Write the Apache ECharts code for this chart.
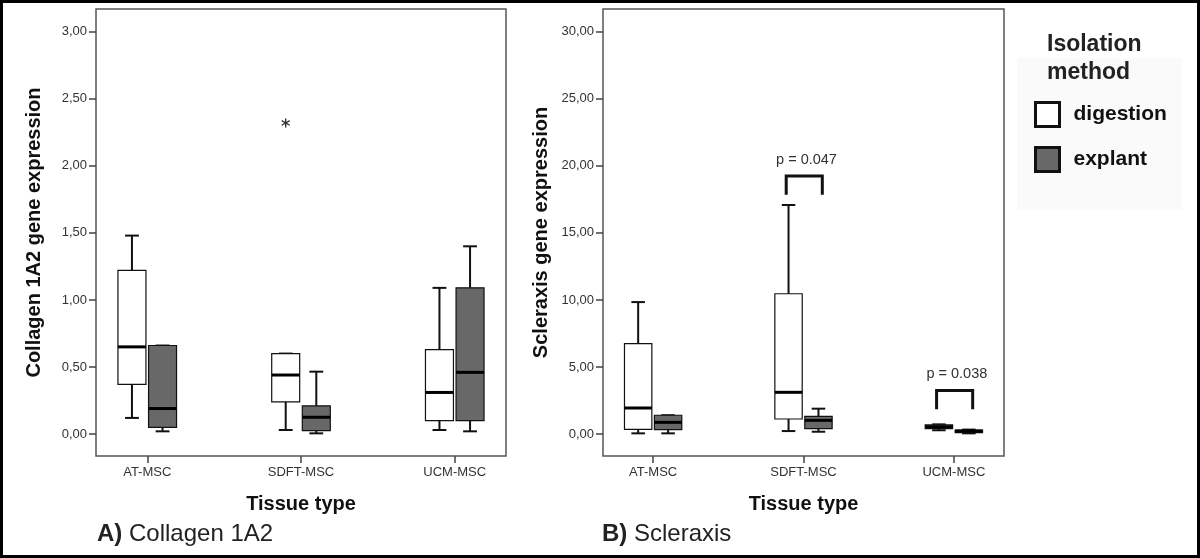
<!DOCTYPE html>
<html><head><meta charset="utf-8">
<script src="https://cdn.jsdelivr.net/npm/echarts@6/dist/echarts.min.js"></script>
<style>html,body{margin:0;padding:0;background:#fff}#c{width:1200px;height:558px}</style>
</head><body><div id="c"></div>
<script>
const categories = ['AT-MSC', 'SDFT-MSC', 'UCM-MSC'];
// each entry: [min, Q1, median, Q3, max]
const collagenDigestion = [[0.12, 0.37, 0.65, 1.22, 1.48], [0.03, 0.24, 0.44, 0.60, 0.60], [0.03, 0.10, 0.31, 0.63, 1.09]];
const collagenExplant = [[0.02, 0.05, 0.19, 0.66, 0.66], [0.005, 0.025, 0.125, 0.21, 0.465], [0.02, 0.10, 0.46, 1.09, 1.40]];
const collagenOutliers = [[1, 2.32]]; // [category index, value] (digestion)
const scleraxisDigestion = [[0.05, 0.35, 1.94, 6.74, 9.84], [0.22, 1.12, 3.11, 10.46, 17.08], [0.28, 0.40, 0.55, 0.68, 0.72]];
const scleraxisExplant = [[0.05, 0.32, 0.87, 1.40, 1.40], [0.17, 0.40, 1.02, 1.32, 1.89], [0.05, 0.10, 0.22, 0.30, 0.33]];
const scleraxisPValues = [[1, 19.25, 17.85, 'p = 0.047'], [2, 3.25, 1.85, 'p = 0.038']]; // [category, bracket top, bracket foot, label]
const collagenTicks = [0, 0.5, 1, 1.5, 2, 2.5, 3];
const scleraxisTicks = [0, 5, 10, 15, 20, 25, 30];
const seriesNames = ['digestion', 'explant'];

const FONT = "'Liberation Sans', Arial, Helvetica, sans-serif";
const DIG_FILL = '#ffffff', EXP_FILL = '#686868';
const catIdx = categories.map((c, i) => i);
const fmt = v => v.toFixed(2).replace('.', ',');

function makeBox(offset, fill) {
  return function (params, api) {
    const i = api.value(0);
    const unit = api.size([1, 0])[0];
    const cx = api.coord([i, 0])[0] + offset * unit;
    const half = 0.091 * unit, capHalf = 0.045 * unit;
    const y = k => api.coord([i, api.value(k)])[1];
    const yMin = y(1), yQ1 = y(2), yMed = y(3), yQ3 = y(4), yMax = y(5);
    const ls = { stroke: '#111', lineWidth: 2 };
    return { type: 'group', children: [
      { type: 'line', shape: { x1: cx, y1: yMax, x2: cx, y2: yQ3 }, style: ls },
      { type: 'line', shape: { x1: cx, y1: yQ1, x2: cx, y2: yMin }, style: ls },
      { type: 'line', shape: { x1: cx - capHalf, y1: yMax, x2: cx + capHalf, y2: yMax }, style: ls },
      { type: 'line', shape: { x1: cx - capHalf, y1: yMin, x2: cx + capHalf, y2: yMin }, style: ls },
      { type: 'rect', shape: { x: cx - half, y: yQ3, width: 2 * half, height: Math.max(yQ1 - yQ3, 1) }, style: { fill: fill, stroke: '#111', lineWidth: 1.2 } },
      { type: 'line', shape: { x1: cx - half, y1: yMed, x2: cx + half, y2: yMed }, style: { stroke: '#000', lineWidth: 3 } }
    ] };
  };
}
function outlierRender(params, api) {
  const i = api.value(0);
  const unit = api.size([1, 0])[0];
  const p = api.coord([i, api.value(1)]);
  const cx = p[0] - 0.0995 * unit, cy = p[1];
  const st = { stroke: '#333', lineWidth: 1.4 };
  return { type: 'group', children: [
    { type: 'line', shape: { x1: cx, y1: cy - 4.5, x2: cx, y2: cy + 4.5 }, style: st },
    { type: 'line', shape: { x1: cx - 4, y1: cy - 2.3, x2: cx + 4, y2: cy + 2.3 }, style: st },
    { type: 'line', shape: { x1: cx - 4, y1: cy + 2.3, x2: cx + 4, y2: cy - 2.3 }, style: st }
  ] };
}
function bracketRender(params, api) {
  const i = api.value(0);
  const unit = api.size([1, 0])[0];
  const cx = api.coord([i, 0])[0];
  const yTop = api.coord([i, api.value(1)])[1];
  const yBot = api.coord([i, api.value(2)])[1];
  const xl = cx - 0.115 * unit, xr = cx + 0.125 * unit;
  return { type: 'group', children: [
    { type: 'polyline', shape: { points: [[xl, yBot], [xl, yTop], [xr, yTop], [xr, yBot]] }, style: { stroke: '#111', lineWidth: 3, fill: null } },
    { type: 'text', x: cx + 3, y: yTop - 16, style: { text: scleraxisPValues[params.dataIndex][3], fill: '#333', font: '14.5px ' + FONT, align: 'center', verticalAlign: 'middle' } }
  ] };
}

function xAxisFor(g) {
  return {
    gridIndex: g, type: 'value', min: -1 / 3, max: 7 / 3, position: 'bottom',
    axisLine: { show: false, onZero: false }, splitLine: { show: false },
    axisTick: { show: true, customValues: catIdx, length: 7, lineStyle: { color: '#444', width: 1.5 } },
    axisLabel: { customValues: catIdx, formatter: v => categories[Math.round(v)], margin: 10, color: '#333', fontSize: 13, fontFamily: FONT },
    name: 'Tissue type', nameLocation: 'middle', nameGap: 38,
    nameTextStyle: { fontSize: 20, fontWeight: 'bold', color: '#111', fontFamily: FONT }
  };
}
function yAxisFor(g, min, max, ticks, name) {
  return {
    gridIndex: g, type: 'value', min: min, max: max, position: 'left',
    axisLine: { show: false, onZero: false }, splitLine: { show: false },
    axisTick: { show: true, customValues: ticks, length: 7, lineStyle: { color: '#444', width: 1.5 } },
    axisLabel: { customValues: ticks, formatter: fmt, margin: 9, color: '#333', fontSize: 13, fontFamily: FONT },
    name: name, nameLocation: 'middle', nameGap: 52,
    nameTextStyle: { fontSize: 20, fontWeight: 'bold', color: '#111', fontFamily: FONT }
  };
}
const toData = arr => arr.map((d, i) => [i].concat(d));
const boxSeries = (name, g, data, offset, fill) => ({
  type: 'custom', name: name, xAxisIndex: g, yAxisIndex: g,
  renderItem: makeBox(offset, fill), data: toData(data),
  encode: { x: 0, y: [1, 2, 3, 4, 5] },
  itemStyle: { color: fill, borderColor: '#111' }, z: 3
});

const chart = echarts.init(document.getElementById('c'), null, { renderer: 'canvas' });
chart.setOption({
  animation: false,
  backgroundColor: '#fff',
  textStyle: { fontFamily: FONT },
  grid: [
    { left: 96, top: 9, width: 410, height: 447, show: true, borderColor: '#555', borderWidth: 1.5, backgroundColor: 'transparent' },
    { left: 603, top: 9, width: 401, height: 447, show: true, borderColor: '#555', borderWidth: 1.5, backgroundColor: 'transparent' }
  ],
  xAxis: [xAxisFor(0), xAxisFor(1)],
  yAxis: [
    yAxisFor(0, -0.164, 3.17, collagenTicks, 'Collagen 1A2 gene expression'),
    yAxisFor(1, -1.64, 31.7, scleraxisTicks, 'Scleraxis gene expression')
  ],
  title: [
    { text: '{b|A)} Collagen 1A2', left: 97, top: 522, padding: 0,
      textStyle: { fontSize: 24, fontWeight: 'normal', color: '#222', fontFamily: FONT, rich: { b: { fontSize: 24, fontWeight: 'bold', color: '#222', fontFamily: FONT } } } },
    { text: '{b|B)} Scleraxis', left: 602, top: 522, padding: 0,
      textStyle: { fontSize: 24, fontWeight: 'normal', color: '#222', fontFamily: FONT, rich: { b: { fontSize: 24, fontWeight: 'bold', color: '#222', fontFamily: FONT } } } },
    { text: 'Isolation\nmethod', left: 1047, top: 31, padding: 0,
      textStyle: { fontSize: 23, fontWeight: 'bold', lineHeight: 28, color: '#222', fontFamily: FONT } }
  ],
  legend: {
    orient: 'vertical', left: 1034, top: 101, padding: 0, itemWidth: 24, itemHeight: 24, itemGap: 18,
    icon: 'rect', selectedMode: false,
    data: [
      { name: seriesNames[0], itemStyle: { color: DIG_FILL, borderColor: '#111', borderWidth: 3 } },
      { name: seriesNames[1], itemStyle: { color: EXP_FILL, borderColor: '#111', borderWidth: 3 } }
    ],
    textStyle: { fontSize: 21, fontWeight: 'bold', color: '#111', fontFamily: FONT, padding: [0, 0, 0, 9] }
  },
  graphic: [
    { type: 'rect', left: 1017, top: 58, shape: { width: 165, height: 152 }, style: { fill: '#fafafa' }, z: -10 },
    { type: 'rect', shape: { x: 1.5, y: 1.5, width: 1197, height: 555 }, style: { fill: null, stroke: '#000', lineWidth: 3 }, z: 100 }
  ],
  series: [
    boxSeries(seriesNames[0], 0, collagenDigestion, -0.0995, DIG_FILL),
    boxSeries(seriesNames[1], 0, collagenExplant, 0.0995, EXP_FILL),
    { type: 'custom', name: 'outliers', xAxisIndex: 0, yAxisIndex: 0, renderItem: outlierRender,
      data: collagenOutliers, encode: { x: 0, y: 1 }, z: 3 },
    boxSeries(seriesNames[0], 1, scleraxisDigestion, -0.0995, DIG_FILL),
    boxSeries(seriesNames[1], 1, scleraxisExplant, 0.0995, EXP_FILL),
    { type: 'custom', name: 'p-values', xAxisIndex: 1, yAxisIndex: 1, renderItem: bracketRender,
      data: scleraxisPValues.map(r => [r[0], r[1], r[2]]), encode: { x: 0, y: [1, 2] }, z: 3 }
  ]
});
</script></body></html>
